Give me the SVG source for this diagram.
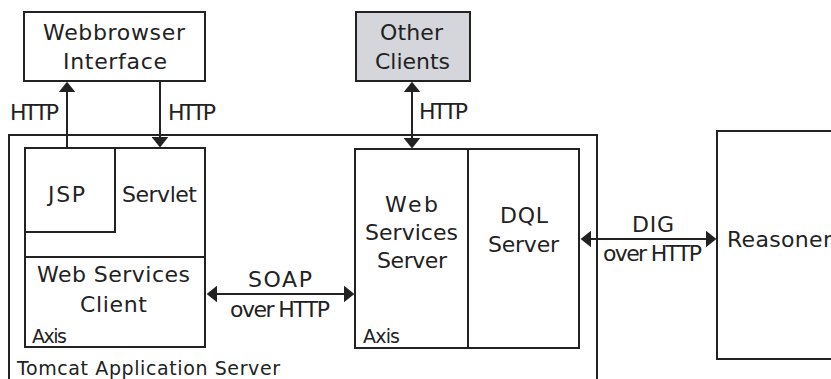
<svg xmlns="http://www.w3.org/2000/svg" width="831" height="379" viewBox="0 0 831 379">
<style>
.box{fill:#fff;stroke:#222;stroke-width:2}
.gray{fill:#d4d6dc}
.t{font-family:"DejaVu Sans",sans-serif;font-size:22px;fill:#222}
.s{font-family:"DejaVu Sans",sans-serif;font-size:19px;fill:#222}
.m{text-anchor:middle}
.c{stroke:#222;stroke-width:2;fill:none}
</style>
<defs>
<marker id="ah" markerUnits="userSpaceOnUse" markerWidth="11" markerHeight="17" viewBox="0 0 10 16" refX="4" refY="8" orient="auto-start-reverse">
<path d="M0,0 L10,8 L0,16 z" fill="#222"/>
</marker>
</defs>
<rect width="831" height="379" fill="#fff"/>

<g id="tomcat">
<rect class="box" x="9" y="135" width="588" height="260" fill="none"/>
<text class="s" x="17" y="375" textLength="263">Tomcat Application Server</text>
</g>

<g id="webbrowser">
<rect class="box" x="24" y="12" width="181" height="69"/>
<text class="t m" x="114" y="40" textLength="142">Webbrowser</text>
<text class="t m" x="115" y="69" textLength="104">Interface</text>
</g>

<g id="other-clients">
<rect class="box gray" x="356" y="12" width="114" height="69"/>
<text class="t m" x="411.5" y="40" textLength="63">Other</text>
<text class="t m" x="412.5" y="69" textLength="75">Clients</text>
</g>

<g id="servlet">
<rect class="box" x="25" y="148" width="180" height="109"/>
<text class="t" x="122" y="202" textLength="75">Servlet</text>
</g>

<g id="jsp">
<rect class="box" x="25" y="148" width="90" height="84"/>
<text class="t" x="48" y="202" textLength="37">JSP</text>
</g>

<g id="ws-client">
<rect class="box" x="25" y="257" width="180" height="90"/>
<text class="t" x="37" y="282" textLength="153">Web Services</text>
<text class="t" x="80" y="312" textLength="67">Client</text>
<text class="s" x="32" y="343" textLength="35">Axis</text>
</g>

<g id="ws-server">
<rect class="box" x="355" y="149" width="113" height="199"/>
<text class="t" x="385" y="212" textLength="53">Web</text>
<text class="t" x="365" y="240" textLength="93">Services</text>
<text class="t" x="377" y="268" textLength="70">Server</text>
<text class="s" x="363" y="343" textLength="37">Axis</text>
</g>

<g id="dql-server">
<rect class="box" x="468" y="149" width="111" height="199"/>
<text class="t" x="500" y="223" textLength="48">DQL</text>
<text class="t" x="488" y="252" textLength="71">Server</text>
</g>

<g id="reasoner">
<rect class="box" x="717" y="131" width="130" height="228"/>
<text class="t" x="727" y="247" textLength="105">Reasoner</text>
</g>

<g id="connectors">
<line class="c" x1="67" y1="148" x2="67" y2="88" marker-end="url(#ah)"/>
<text class="t" x="10" y="120" textLength="49">HTTP</text>
<line class="c" x1="160" y1="81" x2="160" y2="141" marker-end="url(#ah)"/>
<text class="t" x="168" y="120" textLength="48">HTTP</text>
<line class="c" x1="412" y1="88" x2="412" y2="142" marker-start="url(#ah)" marker-end="url(#ah)"/>
<text class="t" x="419" y="119" textLength="49">HTTP</text>
<line class="c" x1="213" y1="294" x2="348" y2="294" marker-start="url(#ah)" marker-end="url(#ah)"/>
<text class="t" x="248" y="287" textLength="64">SOAP</text>
<text class="t" x="230" y="317" textLength="100">over HTTP</text>
<line class="c" x1="587" y1="239" x2="710" y2="239" marker-start="url(#ah)" marker-end="url(#ah)"/>
<text class="t" x="632" y="232" textLength="42">DIG</text>
<text class="t" x="603" y="261" textLength="99">over HTTP</text>
</g>
</svg>
